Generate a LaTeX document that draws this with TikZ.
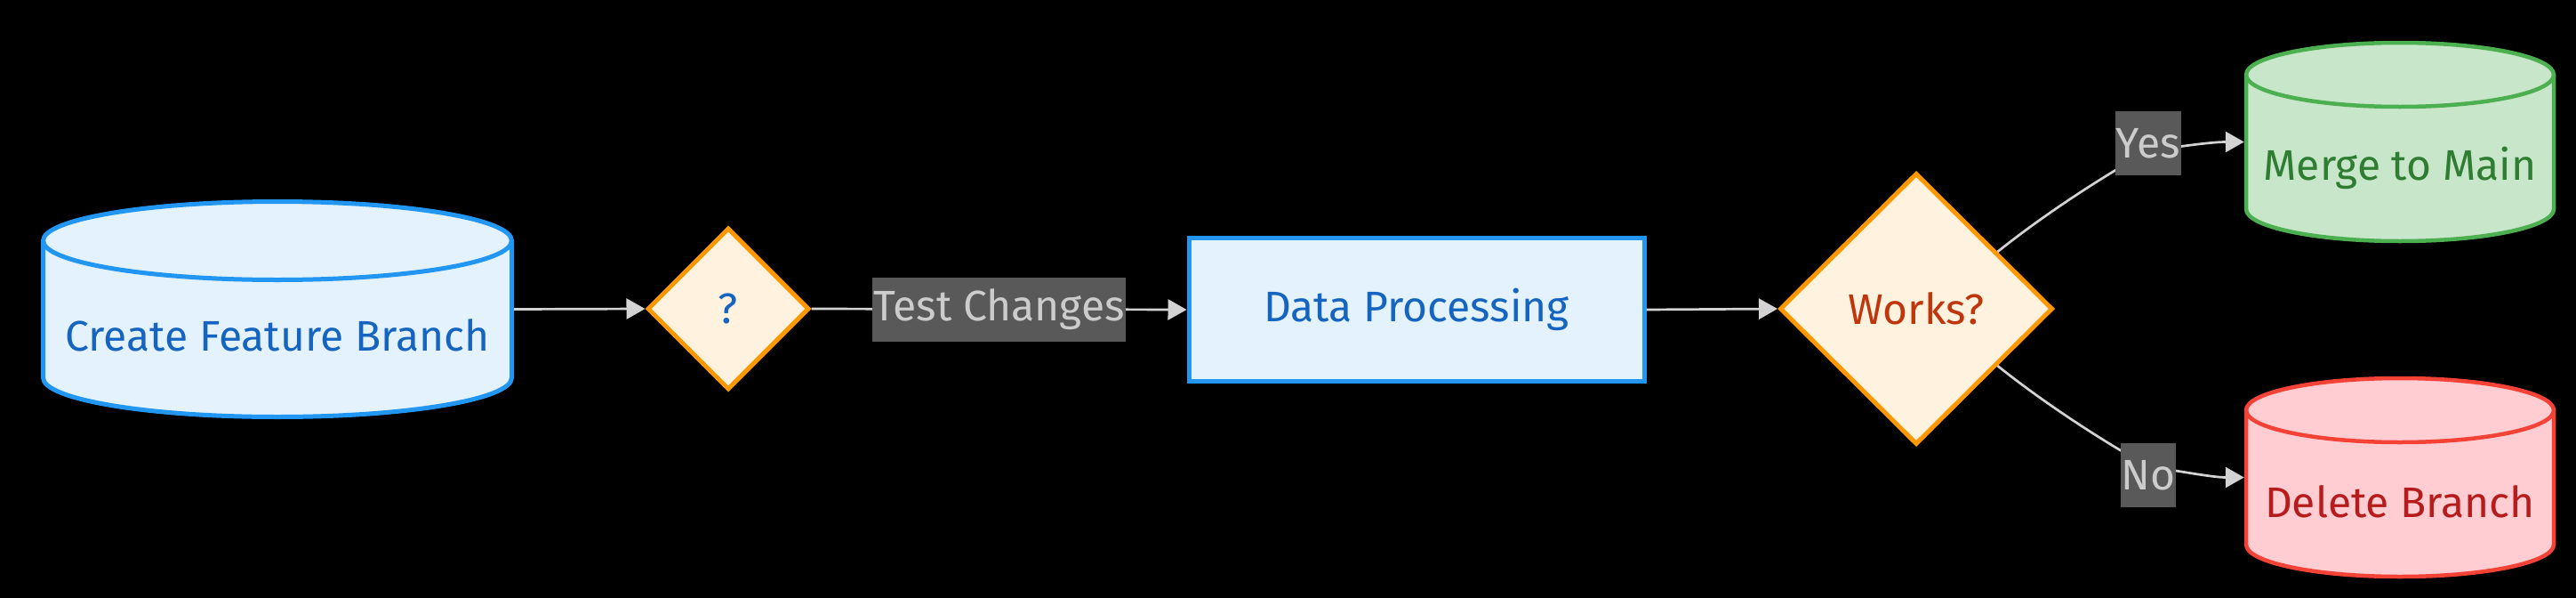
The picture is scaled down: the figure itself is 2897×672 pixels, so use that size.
\documentclass[tikz,border=0pt]{standalone}
\usepackage{fontspec}
\setmainfont{Fira Sans}
\usetikzlibrary{shapes.geometric,arrows.meta}
\definecolor{bfill}{HTML}{E3F2FD}
\definecolor{bstroke}{HTML}{2196F3}
\definecolor{btext}{HTML}{1565C0}
\definecolor{ofill}{HTML}{FFF3E0}
\definecolor{ostroke}{HTML}{FF9800}
\definecolor{otext}{HTML}{BF360C}
\definecolor{gfill}{HTML}{C8E6C9}
\definecolor{gstroke}{HTML}{4CAF50}
\definecolor{gtext}{HTML}{2E7D32}
\definecolor{rfill}{HTML}{FFCDD2}
\definecolor{rstroke}{HTML}{F44336}
\definecolor{rtext}{HTML}{B71C1C}
\definecolor{edgecol}{HTML}{D3D3D3}
\definecolor{lblbg}{HTML}{595959}
\definecolor{lbltext}{HTML}{CCCCCC}
% cylinder: #1 name, #2 cx, #3 ct (top ellipse centre y), #4 cb (bottom arc centre y), #5 rx, #6 ry, #7 fill, #8 stroke, #9 width
\newcommand\mycyl[9]{%
  \pgfmathsetmacro\kx{0.5523*#5}%
  \pgfmathsetmacro\ky{0.5523*#6}%
  \filldraw[fill=#7,draw=#8,line width=#9]
    ({#2-#5},{#3}) -- ({#2-#5},{#4})
    .. controls ({#2-#5},{#4+\ky}) and ({#2-\kx},{#4+#6}) .. ({#2},{#4+#6})
    .. controls ({#2+\kx},{#4+#6}) and ({#2+#5},{#4+\ky}) .. ({#2+#5},{#4})
    -- ({#2+#5},{#3})
    .. controls ({#2+#5},{#3-\ky}) and ({#2+\kx},{#3-#6}) .. ({#2},{#3-#6})
    .. controls ({#2-\kx},{#3-#6}) and ({#2-#5},{#3-\ky}) .. ({#2-#5},{#3}) -- cycle;
  \draw[draw=#8,line width=#9]
    ({#2-#5},{#3})
    .. controls ({#2-#5},{#3+\ky}) and ({#2-\kx},{#3+#6}) .. ({#2},{#3+#6})
    .. controls ({#2+\kx},{#3+#6}) and ({#2+#5},{#3+\ky}) .. ({#2+#5},{#3});
  \coordinate (#1-w) at ({#2-#5-#9/2},{(#3+#4)/2});
  \coordinate (#1-e) at ({#2+#5+#9/2},{(#3+#4)/2});
}
\begin{document}
\begin{tikzpicture}[x=1pt,y=-1pt,
  lbl/.style={font=\fontsize{48}{58}\selectfont, inner sep=0pt},
  decision/.style={diamond, aspect=1, draw=ostroke, fill=ofill, line width=5pt,
    inner sep=0pt, font=\fontsize{48}{58}\selectfont},
  procbox/.style={rectangle, draw=bstroke, fill=bfill, line width=5pt,
    minimum width=512pt, minimum height=161pt, inner sep=0pt, text=btext,
    font=\fontsize{48}{58}\selectfont},
  edge/.style={draw=edgecol, line width=2.7pt, -{Triangle[length=21pt,width=23pt]}},
  elabel/.style={fill=lblbg, text=lbltext, inner xsep=1pt, inner ysep=0pt,
    minimum height=72pt, font=\fontsize{48}{58}\selectfont}
]
\fill[black] (0,0) rectangle (2897,672);
\useasboundingbox (0,0) rectangle (2897,672);

% cylinders
\mycyl{cyl}{312}{270.5}{424.5}{263.5}{44}{bfill}{bstroke}{5pt}
\node[lbl, text=btext] (cyltext) at (312,377) {Create Feature Branch};
\mycyl{merge}{2699}{84}{235}{173}{36}{gfill}{gstroke}{4.5pt}
\node[lbl, text=gtext] (mergetext) at (2699,189) {Merge to Main};
\mycyl{del}{2699}{461}{612}{173}{36}{rfill}{rstroke}{4.5pt}
\node[lbl, text=rtext] (deltext) at (2699,564) {Delete Branch};

% diamonds and box
\node[decision, minimum width=182pt, minimum height=182pt, text=btext] (q) at (819,347) {?};
\node[procbox] (data) at (1593,348) {Data Processing};
\node[decision, minimum width=307pt, minimum height=305pt, text=otext] (works) at (2155,347) {Works?};

% edges
\draw[edge] (cyl-e) -- (q.west);
\draw[edge] (q.east) -- node[elabel] (tc) {Test Changes} (data.west);
\draw[edge] (data.east) -- (works.west);

\coordinate (yesc) at (2416,170);
\coordinate (noc) at (2416,524);
\draw[edge] (works.35) .. controls (2300,240) and (2370,195) .. (yesc)
  .. controls (2460,163) and (2490,159.5) .. (merge-w);
\draw[edge] (works.-35) .. controls (2300,454) and (2370,499) .. (noc)
  .. controls (2460,531) and (2490,536.5) .. (del-w);
\node[elabel] (yes) at (2416,161) {Yes};
\node[elabel] (no) at (2416,534) {No};
\end{tikzpicture}
\end{document}
